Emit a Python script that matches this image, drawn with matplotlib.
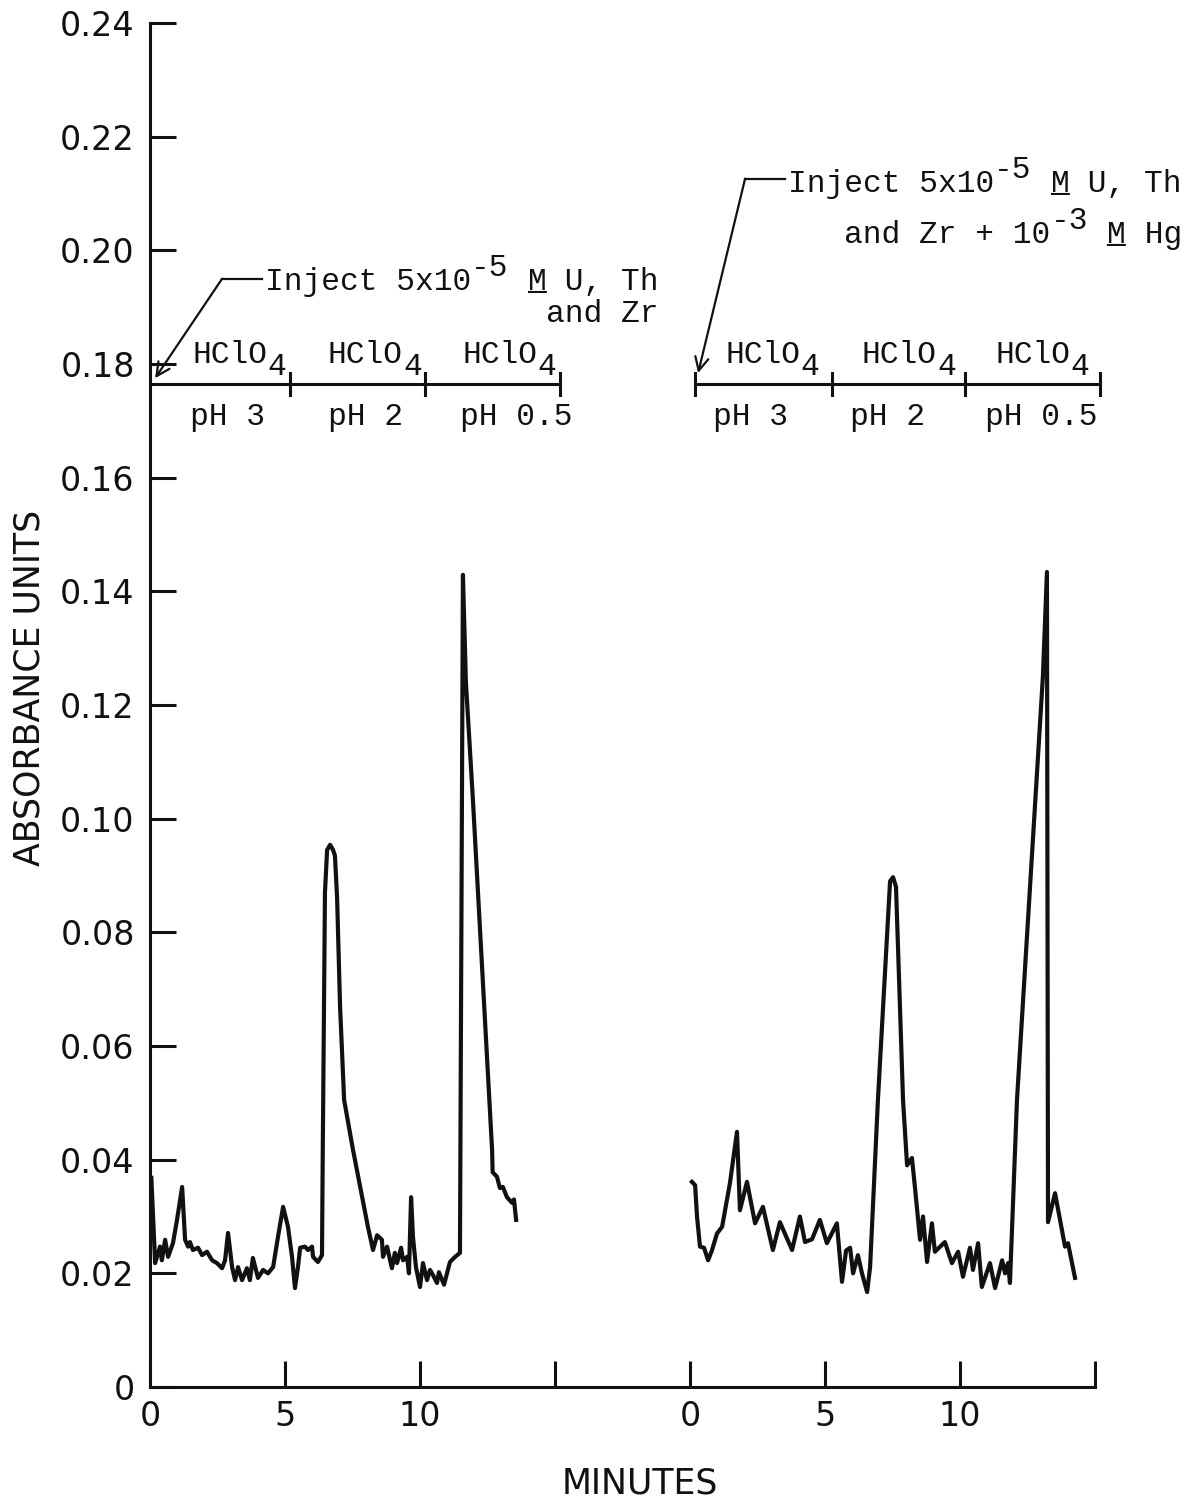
import matplotlib
matplotlib.use('Agg')
import matplotlib.pyplot as plt

# ---------------- data ----------------
# Run 1: U, Th, Zr (minutes after injection, absorbance units)
run1_min = [0.05, 0.19, 0.37, 0.44, 0.56, 0.67, 0.85, 1.00, 1.19, 1.30, 1.41, 1.48,
            1.59, 1.78, 1.93, 2.11, 2.30, 2.48, 2.67, 2.78, 2.89, 3.04, 3.15, 3.26,
            3.41, 3.59, 3.70, 3.81, 4.00, 4.19, 4.37, 4.56, 4.74, 4.93, 5.11, 5.26,
            5.37, 5.48, 5.56, 5.74, 5.85, 6.00, 6.04, 6.22, 6.37, 6.40, 6.48, 6.56,
            6.67, 6.78, 6.85, 6.93, 7.04, 7.19, 7.52, 8.07, 8.26, 8.41, 8.59, 8.63,
            8.78, 8.96, 9.07, 9.15, 9.30, 9.37, 9.52, 9.59, 9.67, 9.74, 9.85, 10.00,
            10.11, 10.26, 10.37, 10.48, 10.63, 10.70, 10.89, 11.11, 11.30, 11.48,
            11.59, 11.70, 11.96, 12.67, 12.69, 12.85, 12.96, 13.07, 13.22, 13.41,
            13.48, 13.56]
run1_abs = [0.0368, 0.0218, 0.0247, 0.0223, 0.0259, 0.0229, 0.0253, 0.0294, 0.0352,
            0.0259, 0.0247, 0.0255, 0.0241, 0.0245, 0.0232, 0.0238, 0.0223, 0.0218,
            0.0209, 0.0223, 0.0271, 0.0211, 0.0188, 0.0211, 0.0188, 0.0209, 0.0188,
            0.0227, 0.0192, 0.0206, 0.0200, 0.0211, 0.0264, 0.0317, 0.0282, 0.0229,
            0.0174, 0.0211, 0.0245, 0.0247, 0.0241, 0.0247, 0.0229, 0.0220, 0.0232,
            0.0422, 0.0870, 0.0945, 0.0954, 0.0945, 0.0935, 0.0860, 0.0669, 0.0505,
            0.0417, 0.0282, 0.0241, 0.0267, 0.0259, 0.0229, 0.0247, 0.0209, 0.0236,
            0.0218, 0.0245, 0.0223, 0.0229, 0.0200, 0.0334, 0.0264, 0.0211, 0.0176,
            0.0218, 0.0188, 0.0206, 0.0197, 0.0183, 0.0202, 0.0180, 0.0220, 0.0229,
            0.0236, 0.1429, 0.1240, 0.1033, 0.0417, 0.0378, 0.0370, 0.0350, 0.0352,
            0.0334, 0.0324, 0.0330, 0.0294]

# Run 2: U, Th, Zr + Hg (minutes after injection, absorbance units)
run2_min = [0.07, 0.19, 0.26, 0.37, 0.52, 0.67, 0.81, 1.00, 1.19, 1.48, 1.74, 1.85,
            2.11, 2.41, 2.70, 3.07, 3.33, 3.78, 4.07, 4.26, 4.52, 4.81, 5.07, 5.44,
            5.63, 5.78, 5.93, 6.04, 6.22, 6.37, 6.56, 6.67, 6.96, 7.41, 7.52, 7.63,
            7.89, 8.04, 8.22, 8.33, 8.52, 8.63, 8.78, 8.96, 9.07, 9.44, 9.70, 9.93,
            10.11, 10.37, 10.48, 10.67, 10.81, 11.11, 11.30, 11.56, 11.67, 11.78,
            11.85, 12.11, 13.07, 13.22, 13.26, 13.52, 13.89, 14.00, 14.26]
run2_abs = [0.0361, 0.0355, 0.0300, 0.0247, 0.0245, 0.0223, 0.0240, 0.0270, 0.0282,
            0.0359, 0.0449, 0.0311, 0.0361, 0.0288, 0.0317, 0.0241, 0.0290, 0.0241,
            0.0300, 0.0255, 0.0260, 0.0294, 0.0253, 0.0288, 0.0185, 0.0240, 0.0245,
            0.0200, 0.0232, 0.0200, 0.0167, 0.0211, 0.0505, 0.0890, 0.0897, 0.0880,
            0.0505, 0.0390, 0.0403, 0.0352, 0.0259, 0.0300, 0.0220, 0.0288, 0.0238,
            0.0255, 0.0218, 0.0238, 0.0194, 0.0245, 0.0206, 0.0253, 0.0176, 0.0218,
            0.0174, 0.0223, 0.0200, 0.0218, 0.0183, 0.0505, 0.1250, 0.1434, 0.0290,
            0.0341, 0.0247, 0.0253, 0.0192]

x_tick_values = [0, 5, 10, 15, 20, 25, 30, 35]
x_tick_labels = ['0', '5', '10', '', '0', '5', '10', '']
y_tick_values = [0, 0.02, 0.04, 0.06, 0.08, 0.10, 0.12, 0.14, 0.16, 0.18, 0.20, 0.22, 0.24]
y_tick_labels = ['0', '0.02', '0.04', '0.06', '0.08', '0.10', '0.12', '0.14', '0.16',
                 '0.18', '0.20', '0.22', '0.24']
acid_labels = ['pH 3', 'pH 2', 'pH 0.5']

# ---------------- layout ----------------
RUN2_OFFSET = 20          # second chromatogram drawn 20 min to the right
SANS = 'DejaVu Sans'
MONO = 'Liberation Mono'
FS = 22.5                 # typewriter size
PITCH = 0.6 * FS          # monospace cell width in points
INK = '#111111'

fig = plt.figure(figsize=(12.04, 15.05), dpi=100)
ax = fig.add_axes([150 / 1204, 1 - 1387 / 1505, 945 / 1204, 1364 / 1505])

ax.plot(run1_min, run1_abs, color=INK, lw=3.0, solid_joinstyle='round')
ax.plot([t + RUN2_OFFSET for t in run2_min], run2_abs, color=INK, lw=3.0,
        solid_joinstyle='round')

ax.set_xlim(0, 35)
ax.set_ylim(0, 0.24)
for s in ('top', 'right'):
    ax.spines[s].set_visible(False)
for s in ('left', 'bottom'):
    ax.spines[s].set_linewidth(2.2)
    ax.spines[s].set_color(INK)

ax.set_xticks(x_tick_values)
ax.set_xticklabels(x_tick_labels, fontfamily=SANS, fontsize=24)
ax.set_yticks(y_tick_values)
ax.set_yticklabels(y_tick_labels, fontfamily=SANS, fontsize=24)
ax.tick_params(axis='both', direction='in', length=19, width=2.2, color=INK,
               labelcolor=INK)
ax.tick_params(axis='x', pad=9)
ax.tick_params(axis='y', pad=11)

ax.set_ylabel('ABSORBANCE UNITS', fontfamily=SANS, fontsize=25, va='center', color=INK)
ax.yaxis.set_label_coords(-0.127, 0.5125)
ax.set_xlabel('MINUTES', fontfamily=SANS, fontsize=25, va='center', color=INK)
ax.xaxis.set_label_coords(0.5185, -0.0704)


def typed(x, y, pieces, start_cell=0):
    """Typewriter-style text made of monospace pieces: (text, dy_points, underline)."""
    cell = start_cell
    for s, dy, ul in pieces:
        ax.annotate(s, xy=(x, y), xytext=(cell * PITCH, dy), textcoords='offset points',
                    fontfamily=MONO, fontsize=FS, ha='left', va='baseline',
                    color=INK, annotation_clip=False)
        if ul:
            ax.annotate('_' * len(s), xy=(x, y), xytext=(cell * PITCH, dy),
                        textcoords='offset points', fontfamily=MONO, fontsize=FS,
                        ha='left', va='baseline', color=INK, annotation_clip=False)
        cell += len(s)


# gradient bars
BAR_Y = 0.1765
TICK_H = 0.0019
HCLO_Y = 0.1802
PH_Y = 0.1693
bars = [
    dict(edges=[0, 5.2, 10.2, 15.2], acid_x=[1.56, 6.59, 11.56], ph_x=[1.48, 6.59, 11.48],
         first_tick=False),
    dict(edges=[20.2, 25.25, 30.2, 35.2], acid_x=[21.3, 26.37, 31.3],
         ph_x=[20.85, 25.93, 30.92], first_tick=True),
]
for b in bars:
    e = b['edges']
    ax.plot([e[0], e[-1]], [BAR_Y, BAR_Y], color=INK, lw=2.2, clip_on=False)
    tick_edges = e if b['first_tick'] else e[1:]
    for xe in tick_edges:
        ax.plot([xe, xe], [BAR_Y - TICK_H, BAR_Y + TICK_H], color=INK, lw=2.2,
                clip_on=False)
    for xa in b['acid_x']:
        typed(xa, HCLO_Y, [('HClO', 0, False), ('4', -9, False)])
    for xp, lab in zip(b['ph_x'], acid_labels):
        typed(xp, PH_Y, [(lab, 0, False)])

# injection annotations
arrow_kw = dict(arrowstyle='->', lw=1.6, color=INK, mutation_scale=24,
                shrinkA=0, shrinkB=0)

ax.plot([2.67, 4.15], [0.195, 0.195], color=INK, lw=1.6)
ax.annotate('', xy=(0.19, 0.1775), xytext=(2.67, 0.195), arrowprops=arrow_kw)
typed(4.26, 0.193, [('Inject 5x10', 0, False), ('-5', 10, False), (' ', 0, False),
                    ('M', 0, True), (' U, Th', 0, False)])
typed(4.26, 0.1874, [('and Zr', 0, False)], start_cell=15)

ax.plot([22.04, 23.52], [0.2126, 0.2126], color=INK, lw=1.6)
ax.annotate('', xy=(20.3, 0.1784), xytext=(22.04, 0.2126), arrowprops=arrow_kw)
typed(23.63, 0.2103, [('Inject 5x10', 0, False), ('-5', 10, False), (' ', 0, False),
                      ('M', 0, True), (' U, Th', 0, False)])
typed(23.63, 0.2013, [('and Zr + 10', 0, False), ('-3', 10, False), (' ', 0, False),
                      ('M', 0, True), (' Hg', 0, False)], start_cell=3)

fig.savefig('out.png', dpi=100, facecolor='white')
